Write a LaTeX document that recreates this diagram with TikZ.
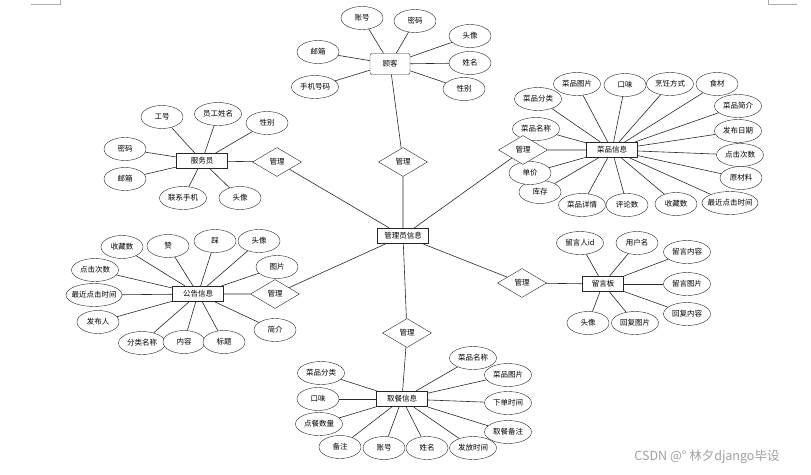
\documentclass[tikz,border=0pt]{standalone}
\usepackage{fontspec}
\setmainfont{Noto Sans CJK SC}
\usepackage{tikz}
\usetikzlibrary{shapes.geometric}
\definecolor{edgegray}{RGB}{40,40,40}
\definecolor{markgray}{RGB}{170,170,170}
\definecolor{wmgray}{RGB}{160,160,160}

\begin{document}
\begin{tikzpicture}[
  x=1pt, y=-1pt,
  font=\fontsize{7.5}{8.5}\selectfont,
  attr/.style={draw=edgegray, ellipse, minimum width=42pt, minimum height=23pt, inner xsep=-4pt, inner ysep=0pt, fill=white},
  wattr/.style={attr, minimum width=47pt},
  xattr/.style={attr, minimum width=56pt},
  entity/.style={draw=black!85, line width=1.1pt, minimum width=51pt, minimum height=15pt, inner sep=1pt, fill=white},
  rel/.style={draw=edgegray, diamond, minimum width=49pt, minimum height=29pt, inner sep=0pt, fill=white},
  conn/.style={edgegray, line width=0.6pt}
]
\useasboundingbox (0,0) rectangle (811,474);
\draw[markgray, line width=0.5pt] (31,4) -- (60,4) -- (60,0);
\draw[markgray, line width=0.5pt] (768,0) -- (768,4) -- (797,4);

\node[entity] (admin) at (403,236) {管理员信息};

\node[draw=edgegray, rounded corners=2pt, minimum width=40pt, minimum height=21pt, fill=white] (gk) at (390,64) {顾客};
\node[attr] (gk1) at (362,18) {账号};
\node[attr] (gk2) at (415,21) {密码};
\node[attr] (gk3) at (470,36) {头像};
\node[attr] (gk4) at (470,63) {姓名};
\node[attr] (gk5) at (464,89) {性别};
\node[wattr] (gk6) at (315,87) {手机号码};
\node[attr] (gk7) at (318,52) {邮箱};
\node[rel] (glgk) at (403,162) {管理};

\node[entity] (cp) at (612,150) {菜品信息};
\node[wattr] (cp1) at (538,99) {菜品分类};
\node[wattr] (cp2) at (577,84) {菜品图片};
\node[attr] (cp3) at (625,85) {口味};
\node[wattr] (cp4) at (670,84) {烹饪方式};
\node[attr] (cp5) at (717,84) {食材};
\node[wattr] (cp6) at (738,106) {菜品简介};
\node[wattr] (cp7) at (738,131) {发布日期};
\node[wattr] (cp8) at (740,155) {点击次数};
\node[attr] (cp9) at (741,178) {原材料};
\node[xattr] (cp10) at (730,203) {最近点击时间};
\node[attr] (cp11) at (676,204) {收藏数};
\node[attr] (cp12) at (627,205) {评论数};
\node[wattr] (cp13) at (582,205) {菜品详情};
\node[attr] (cp14) at (540,192) {库存};
\node[attr] (cp15) at (530,173) {单价};
\node[wattr] (cp16) at (536,129) {菜品名称};
\node[rel] (glcp) at (523,150) {管理};

\node[entity] (fwy) at (202,161) {服务员};
\node[attr] (fwy1) at (162,117) {工号};
\node[wattr] (fwy2) at (218,114) {员工姓名};
\node[attr] (fwy3) at (267,123) {性别};
\node[attr] (fwy4) at (125,149) {密码};
\node[attr] (fwy5) at (125,179) {邮箱};
\node[wattr] (fwy6) at (183,198) {联系手机};
\node[attr] (fwy7) at (240,198) {头像};
\node[rel] (glfwy) at (277,162) {管理};

\node[entity] (gg) at (198,294) {公告信息};
\node[attr] (gg1) at (122,247) {收藏数};
\node[attr] (gg2) at (168,246) {赞};
\node[attr] (gg3) at (215,241) {踩};
\node[attr] (gg4) at (259,241) {头像};
\node[attr] (gg5) at (277,267) {图片};
\node[wattr] (gg6) at (95,270) {点击次数};
\node[xattr] (gg7) at (94,295) {最近点击时间};
\node[attr] (gg8) at (98,322) {发布人};
\node[wattr] (gg9) at (142,343) {分类名称};
\node[attr] (gg10) at (184,342) {内容};
\node[attr] (gg11) at (224,342) {标题};
\node[attr] (gg12) at (275,330) {简介};
\node[rel] (glgg) at (275,294) {管理};

\node[entity, minimum width=41pt] (ly) at (603,284) {留言板};
\node[wattr] (ly1) at (580,243) {留言人id};
\node[attr] (ly2) at (637,243) {用户名};
\node[wattr] (ly3) at (687,252) {留言内容};
\node[wattr] (ly4) at (687,284) {留言图片};
\node[wattr] (ly5) at (687,314) {回复内容};
\node[attr] (ly6) at (588,323) {头像};
\node[wattr] (ly7) at (635,323) {回复图片};
\node[rel] (glly) at (522,283) {管理};

\node[entity] (qc) at (402,399) {取餐信息};
\node[wattr] (qc1) at (473,358) {菜品名称};
\node[wattr] (qc2) at (508,375) {菜品图片};
\node[wattr] (qc3) at (508,403) {下单时间};
\node[wattr] (qc4) at (508,432) {取餐备注};
\node[wattr] (qc5) at (473,448) {发放时间};
\node[attr] (qc6) at (427,448) {姓名};
\node[attr] (qc7) at (384,448) {账号};
\node[attr] (qc8) at (340,447) {备注};
\node[wattr] (qc9) at (319,424) {点餐数量};
\node[attr] (qc10) at (318,399) {口味};
\node[wattr] (qc11) at (321,373) {菜品分类};
\node[rel] (glqc) at (407,333) {管理};

\foreach \i in {1,...,7} \draw[conn] (gk) -- (gk\i);
\foreach \i in {1,...,16} \draw[conn] (cp) -- (cp\i);
\foreach \i in {1,...,7} \draw[conn] (fwy) -- (fwy\i);
\foreach \i in {1,...,12} \draw[conn] (gg) -- (gg\i);
\foreach \i in {1,...,7} \draw[conn] (ly) -- (ly\i);
\foreach \i in {1,...,11} \draw[conn] (qc) -- (qc\i);

\draw[conn] (gk) -- (glgk) -- (admin);
\draw[conn] (cp) -- (glcp) -- (admin);
\draw[conn] (fwy) -- (glfwy) -- (admin);
\draw[conn] (gg) -- (glgg) -- (admin);
\draw[conn] (ly) -- (glly) -- (admin);
\draw[conn] (qc) -- (glqc) -- (admin);

\node[wmgray, font=\fontsize{12.5}{14}\selectfont] (wm) at (707,457) {CSDN @° 林夕django毕设};
\end{tikzpicture}
\end{document}
